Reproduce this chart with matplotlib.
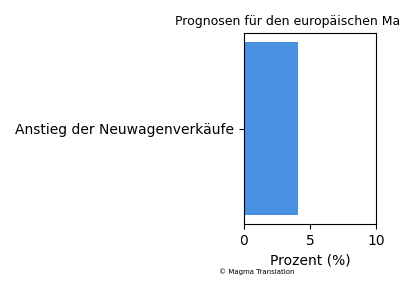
import matplotlib
matplotlib.use("Agg")
import matplotlib.pyplot as plt

categories = ["Anstieg der Neuwagenverkäufe"]
values = [4.1]
title = "Prognosen für den europäischen Markt 2024"

fig = plt.figure(figsize=(4, 3), dpi=100)
ax = fig.add_axes([0.61, 0.253, 0.33, 0.637])
ax.barh(categories, values, color="#4a90e2")
ax.set_xlim(0, 10)
ax.set_xticks([0, 5, 10])
ax.set_xlabel("Prozent (%)")
ax.set_title(title, fontsize=9, x=0.53)
fig.text(0.548, 0.095, "© Magma Translation", fontsize=5, ha="left", va="center")
fig.savefig("out.png", dpi=100)
